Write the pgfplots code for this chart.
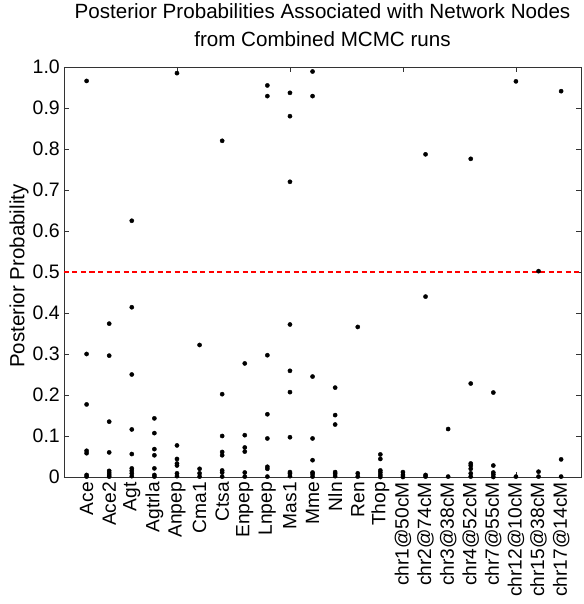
\documentclass[border=0pt]{standalone}
\usepackage{pgfplots}
\pgfplotsset{compat=1.18}
\usepackage{fontspec}
\setmainfont{Liberation Sans}
\begin{document}
\begin{tikzpicture}
\useasboundingbox (-64pt,-127pt) rectangle (519pt,477pt);
\begin{axis}[
  at={(0pt,0pt)}, anchor=south west,
  scale only axis, width=517pt, height=410pt,
  xmin=0, xmax=22.88, ymin=0, ymax=1,
  clip=false,
  axis line style={line width=0.9pt, black!80},
  tick align=inside,
  major tick length=5pt,
  tick style={line width=0.8pt, black!80},
  xtick={0,5,10,15,20},
  xticklabels={},
  extra x ticks={1,2,3,4,5,6,7,8,9,10,11,12,13,14,15,16,17,18,19,20,21,22},
  extra x tick labels={Ace,Ace2,Agt,Agtrla,Anpep,Cma1,Ctsa,Enpep,Lnpep,Mas1,Mme,Nln,Ren,Thop,chr1@50cM,chr2@74cM,chr3@38cM,chr4@52cM,chr7@55cM,chr12@10cM,chr15@38cM,chr17@14cM},
  extra x tick style={major tick length=0pt, xticklabel style={rotate=90, anchor=east, inner xsep=5pt, inner ysep=0pt, font=\fontsize{19.2}{19}\selectfont}},
  ytick={0,0.1,0.2,0.3,0.4,0.5,0.6,0.7,0.8,0.9,1},
  yticklabels={0,0.1,0.2,0.3,0.4,0.5,0.6,0.7,0.8,0.9,1.0},
  yticklabel style={font=\fontsize{19.5}{19}\selectfont, inner sep=0pt, xshift=-4pt},
  /pgf/number format/assume math mode=true,
  ylabel={Posterior Probability},
  ylabel style={at={(axis description cs:-0.087,0.49)}, anchor=center, rotate=0, font=\fontsize{20.5}{20}\selectfont},
  title={Posterior Probabilities Associated with Network Nodes\\[4pt]from Combined MCMC runs},
  title style={at={(axis description cs:0.5,1)}, anchor=south, yshift=14pt, inner sep=0pt, align=center, font=\fontsize{20.6}{24.5}\selectfont},
]
\addplot[red, line width=1.5pt, dash pattern=on 5pt off 3.5pt] coordinates {(0,0.5) (22.88,0.5)};
\addplot[only marks, mark=*, mark size=2.1pt, black, mark options={fill=black, draw=black}] table {
x y
1 0.966
1 0.300
1 0.177
1 0.064
1 0.058
1 0.005
1 0.001
2 0.374
2 0.296
2 0.135
2 0.060
2 0.015
2 0.010
2 0.005
2 0.001
3 0.625
3 0.414
3 0.250
3 0.116
3 0.056
3 0.021
3 0.015
3 0.009
3 0.002
4 0.143
4 0.107
4 0.068
4 0.053
4 0.021
4 0.005
4 0.001
5 0.985
5 0.077
5 0.044
5 0.033
5 0.028
5 0.009
5 0.002
6 0.322
6 0.020
6 0.009
6 0.001
7 0.820
7 0.202
7 0.100
7 0.061
7 0.053
7 0.016
7 0.011
7 0.001
8 0.277
8 0.102
8 0.072
8 0.062
8 0.011
8 0.001
9 0.955
9 0.929
9 0.297
9 0.153
9 0.094
9 0.025
9 0.020
9 0.001
10 0.937
10 0.880
10 0.720
10 0.372
10 0.259
10 0.207
10 0.097
10 0.012
10 0.008
10 0.002
11 0.989
11 0.929
11 0.245
11 0.094
11 0.041
11 0.011
11 0.007
11 0.001
12 0.218
12 0.151
12 0.128
12 0.012
12 0.008
12 0.002
13 0.366
13 0.009
13 0.001
14 0.055
14 0.044
14 0.016
14 0.011
14 0.005
14 0.000
15 0.012
15 0.005
15 0.000
16 0.787
16 0.440
16 0.005
16 0.001
17 0.117
17 0.001
18 0.776
18 0.228
18 0.033
18 0.028
18 0.020
18 0.009
18 0.001
19 0.206
19 0.028
19 0.011
19 0.006
19 0.000
20 0.965
20 0.001
21 0.502
21 0.013
21 0.001
22 0.941
22 0.043
22 0.001
};
\end{axis}
\end{tikzpicture}
\end{document}
